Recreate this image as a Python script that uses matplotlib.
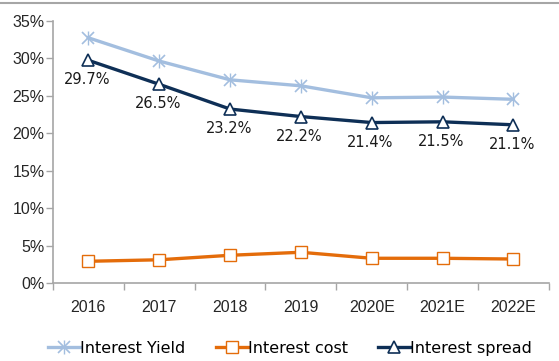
import matplotlib
matplotlib.use("Agg")
import matplotlib.pyplot as plt
from matplotlib.lines import Line2D

years = ["2016", "2017", "2018", "2019", "2020E", "2021E", "2022E"]
interest_yield = [32.7, 29.6, 27.1, 26.3, 24.7, 24.8, 24.5]
interest_cost = [2.9, 3.1, 3.7, 4.1, 3.3, 3.3, 3.2]
interest_spread = [29.7, 26.5, 23.2, 22.2, 21.4, 21.5, 21.1]
spread_labels = ["29.7%", "26.5%", "23.2%", "22.2%", "21.4%", "21.5%", "21.1%"]
y_ticks = [0, 5, 10, 15, 20, 25, 30, 35]

c_yield = "#A3BEDF"
c_cost = "#E46C0A"
c_spread = "#0E2F56"
c_axis = "#A6A6A6"

fig = plt.figure(figsize=(5.59, 3.61), dpi=100)
ax = fig.add_axes([0.0948, 0.216, 0.887, 0.727])

x = list(range(len(years)))
# star marker: diagonal cross plus vertical stroke
ax.plot(x, interest_yield, color=c_yield, lw=2.4, marker="x", ms=8,
        mew=1.2, mec=c_yield, zorder=3)
ax.plot(x, interest_yield, color=c_yield, lw=0, marker="|", ms=10,
        mew=1.0, mec=c_yield, zorder=3)
ax.plot(x, interest_cost, color=c_cost, lw=2.4, marker="s", ms=8,
        mfc="white", mec=c_cost, mew=1.0, zorder=3)
ax.plot(x, interest_spread, color=c_spread, lw=2.4, marker="^", ms=9,
        mfc="white", mec=c_spread, mew=1.2, zorder=4)

for xi, v, lab in zip(x, interest_spread, spread_labels):
    ax.annotate(lab, (xi, v), xytext=(-1, -14), textcoords="offset points",
                ha="center", va="center", fontsize=10.5, color="#1a1a1a",
                family="DejaVu Sans", zorder=5)

ax.set_xlim(-0.5, len(years) - 0.5)
ax.set_ylim(0, 35)
ax.set_yticks(y_ticks)
ax.set_yticklabels([f"{t}%" for t in y_ticks], family="Liberation Sans",
                   fontsize=11.5, color="#262626")
ax.set_xticks(x)
ax.set_xticklabels(years, family="Liberation Sans", fontsize=11.5,
                   color="#262626")
ax.set_xticks([i - 0.5 for i in range(len(years) + 1)], minor=True)
ax.tick_params(axis="x", which="major", length=0, pad=12)
ax.tick_params(axis="x", which="minor", length=5, color=c_axis, width=1)
ax.tick_params(axis="y", length=5, color=c_axis, width=1, pad=1)

for side in ("top", "right"):
    ax.spines[side].set_visible(False)
for side in ("left", "bottom"):
    ax.spines[side].set_color(c_axis)
    ax.spines[side].set_linewidth(1.2)

handles = [
    (Line2D([], [], color=c_yield, lw=2.4, marker="x", ms=8, mew=1.2),
     Line2D([], [], color=c_yield, lw=0, marker="|", ms=10, mew=1.0)),
    Line2D([], [], color=c_cost, lw=2.4, marker="s", ms=8, mfc="white",
           mec=c_cost, mew=1.0),
    Line2D([], [], color=c_spread, lw=2.4, marker="^", ms=9, mfc="white",
           mec=c_spread, mew=1.2),
]
fig.legend(handles, ["Interest Yield", "Interest cost", "Interest spread"],
           loc="center", bbox_to_anchor=(0.519, 0.035), ncol=3, frameon=False,
           prop={"family": "DejaVu Sans", "size": 11.5}, handlelength=2.0,
           handletextpad=0.0, columnspacing=1.9)

fig.add_artist(Line2D([0, 1], [0.993, 0.993], color=c_axis, lw=1.5,
                      transform=fig.transFigure))

fig.savefig("out.png", dpi=100)
